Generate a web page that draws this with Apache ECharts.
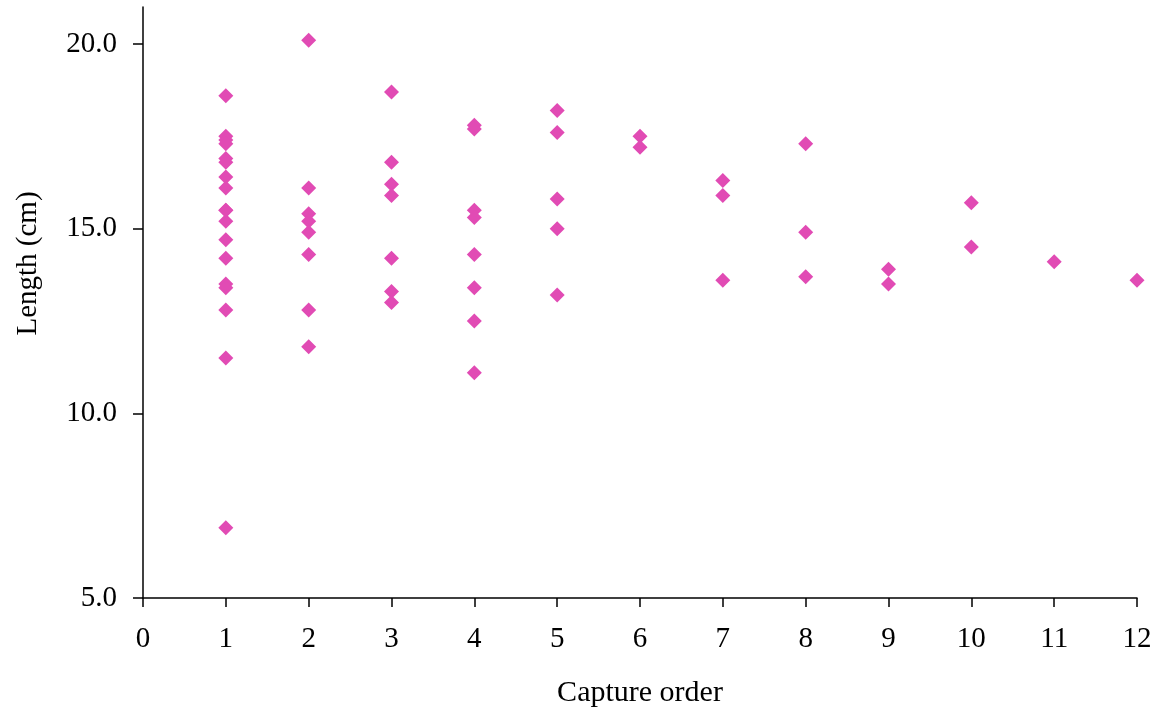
<!DOCTYPE html>
<html>
<head>
<meta charset="utf-8">
<script src="https://cdn.jsdelivr.net/npm/echarts@6/dist/echarts.min.js"></script>
<style>
  html, body { margin: 0; padding: 0; background: #fff; }
  #main { width: 1161px; height: 709px; }
</style>
</head>
<body>
<div id="main"></div>
<script>
// capture order for each fish, and its length (cm)
const captureOrder = [
  1, 1, 1, 1, 1, 1, 1, 1, 1, 1, 1, 1, 1, 1, 1, 1, 1, 1,
  2, 2, 2, 2, 2, 2, 2, 2,
  3, 3, 3, 3, 3, 3, 3,
  4, 4, 4, 4, 4, 4, 4, 4,
  5, 5, 5, 5, 5,
  6, 6,
  7, 7, 7,
  8, 8, 8,
  9, 9,
  10, 10,
  11,
  12
];
const lengthCm = [
  18.6, 17.5, 17.4, 17.3, 16.9, 16.8, 16.4, 16.1, 15.5, 15.2, 14.7, 14.2, 13.5, 13.4, 12.8, 11.5, 6.9, 15.5,
  20.1, 16.1, 15.4, 15.2, 14.9, 14.3, 12.8, 11.8,
  18.7, 16.8, 16.2, 15.9, 14.2, 13.3, 13.0,
  17.8, 17.7, 15.5, 15.3, 14.3, 13.4, 12.5, 11.1,
  18.2, 17.6, 15.8, 15.0, 13.2,
  17.5, 17.2,
  16.3, 15.9, 13.6,
  17.3, 14.9, 13.7,
  13.9, 13.5,
  15.7, 14.5,
  14.1,
  13.6
];
const yTicks = [5, 10, 15, 20];

const points = captureOrder.map((x, i) => [x, lengthCm[i]]);

const chart = echarts.init(document.getElementById('main'), null, { renderer: 'canvas' });

const font = '"Liberation Serif", "Times New Roman", serif';

const option = {
  backgroundColor: '#fff',
  animation: false,
  textStyle: { fontFamily: font },
  grid: { left: 143, right: 24, top: 7, bottom: 111, containLabel: false, outerBoundsMode: 'none' },
  xAxis: {
    type: 'value',
    min: 0,
    max: 12,
    interval: 1,
    name: 'Capture order',
    nameLocation: 'middle',
    nameGap: 80,
    nameTextStyle: { fontFamily: font, fontSize: 30, color: '#000' },
    axisLine: { show: true, onZero: false, lineStyle: { color: '#000', width: 1.5 } },
    axisTick: { show: true, inside: false, length: 9, lineStyle: { color: '#000', width: 1.5 } },
    axisLabel: { fontFamily: font, fontSize: 29, color: '#000', margin: 27 },
    splitLine: { show: false }
  },
  yAxis: {
    type: 'value',
    min: 5,
    max: 21,
    interval: 5,
    name: 'Length (cm)',
    nameLocation: 'middle',
    nameGap: 100,
    nameRotate: 90,
    nameTextStyle: { fontFamily: font, fontSize: 29, color: '#000', padding: [0, 0, 0, 78] },
    axisLine: { show: true, onZero: false, lineStyle: { color: '#000', width: 1.5 } },
    axisTick: { show: true, inside: false, length: 10, customValues: yTicks, lineStyle: { color: '#000', width: 1.5 } },
    axisLabel: {
      fontFamily: font, fontSize: 29, color: '#000', margin: 26,
      customValues: yTicks,
      formatter: v => v.toFixed(1)
    },
    splitLine: { show: false }
  },
  series: [{
    type: 'scatter',
    data: points,
    symbol: 'diamond',
    symbolSize: 15,
    itemStyle: { color: '#E14BB4', opacity: 1 }
  }]
};

chart.setOption(option);
</script>
</body>
</html>
